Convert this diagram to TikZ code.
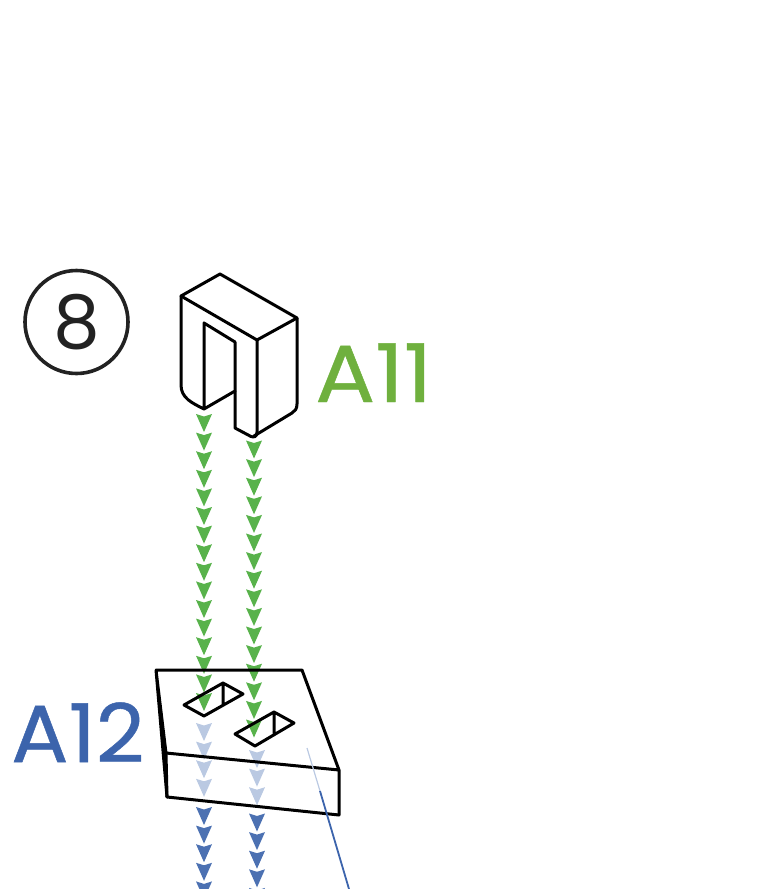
\documentclass[tikz,border=0pt]{standalone}
\usepackage{fontspec}
\setmainfont{Poppins}
\newfontfamily\upperfont{Poppins}[FakeStretch=1.1, FakeBold=0.6]
\newfontfamily\lowerfont{Poppins}[FakeStretch=1.05, FakeBold=0.6]
\definecolor{partgreen}{RGB}{111,176,62}
\definecolor{headgreen}{RGB}{88,178,75}
\definecolor{partblue}{RGB}{60,100,172}
\definecolor{headblue}{RGB}{76,113,178}
\definecolor{headpale}{RGB}{186,201,226}
\definecolor{ringgrey}{RGB}{34,34,34}
\newcommand{\hd}{+(-8,0) -- +(0,2.5) -- +(8,0) -- +(0,18) -- cycle ++(8,18.6)}
\tikzset{
	edges/.style={line width=3pt, line join=round, line cap=round},
	partlabel/.style={inner sep=0pt, anchor=base west},
	stepring/.style={circle, draw=ringgrey, text=ringgrey, line width=3.6pt, minimum size=103pt, inner sep=0pt, font=\fontsize{74}{74}\selectfont}
}
\begin{document}
\begin{tikzpicture}[x=1pt, y=-1pt]
	\clip (0,0) rectangle (756,889);
	% green heads
	\fill[headgreen] (204,414) \hd\hd\hd\hd\hd\hd\hd\hd\hd\hd\hd\hd\hd\hd\hd\hd;
	\fill[headgreen] (254,440.5) \hd\hd\hd\hd\hd\hd\hd\hd\hd\hd\hd\hd\hd\hd\hd\hd;
	% pale heads
	\fill[headpale] (204,723) \hd\hd\hd\hd;
	\fill[headpale] (257,750) \hd\hd\hd;
	% blue heads
	\fill[headblue] (204,807) \hd\hd\hd\hd\hd;
	\fill[headblue] (257,813.5) \hd\hd\hd\hd\hd;
	% upper part
	\draw[edges] (181,296) -- (220,274) -- (297,318) -- (257,340) -- cycle;
	\draw[edges] (181,296) -- (181,385) .. controls (181,398) and (192,403) .. (204,409) -- (204,323) -- (235,342) -- (235,391) -- (204,409);
	\draw[edges] (235,391) -- (235,428) -- (251,436.5) .. controls (254,437.5) and (257,437) .. (257,432) -- (257,340);
	\draw[edges] (297,318) -- (297,404) .. controls (297,409) and (295,411) .. (292,413) -- (254,436);
	% lower part
	\draw[edges] (156,670) -- (302,670) -- (339,770) -- (339,815) -- (167,797) -- (156,670) -- (166,753) -- (339,770);
	\draw[edges] (166,753) -- (167,797);
	\draw[edges] (184,705) -- (223,683) -- (243,694) -- (204,716) -- cycle (223,683) -- (223,705);
	\draw[edges] (235,734) -- (274,712) -- (294,723) -- (255,746) -- cycle (274,712) -- (274,733);
	% leader
	\coordinate (leadtop) at (307,748);
	\coordinate (leadmid) at (320,791);
	\coordinate (leadend) at (349,889);
	\draw[headpale, line width=1.2pt] (leadtop) -- (leadmid);
	\draw[partblue, line width=1.8pt] (leadmid) -- (leadend);
	% labels
	\node[stepring] (stepeight) at (76.5,322) {8};
	\node[partlabel, text=partgreen, font=\upperfont\fontsize{81}{81}\selectfont] (labelupper) at (315,402) {A11};
	\node[partlabel, text=partblue, font=\lowerfont\fontsize{81}{81}\selectfont] (labellower) at (11,762) {A12};
\end{tikzpicture}
\end{document}
